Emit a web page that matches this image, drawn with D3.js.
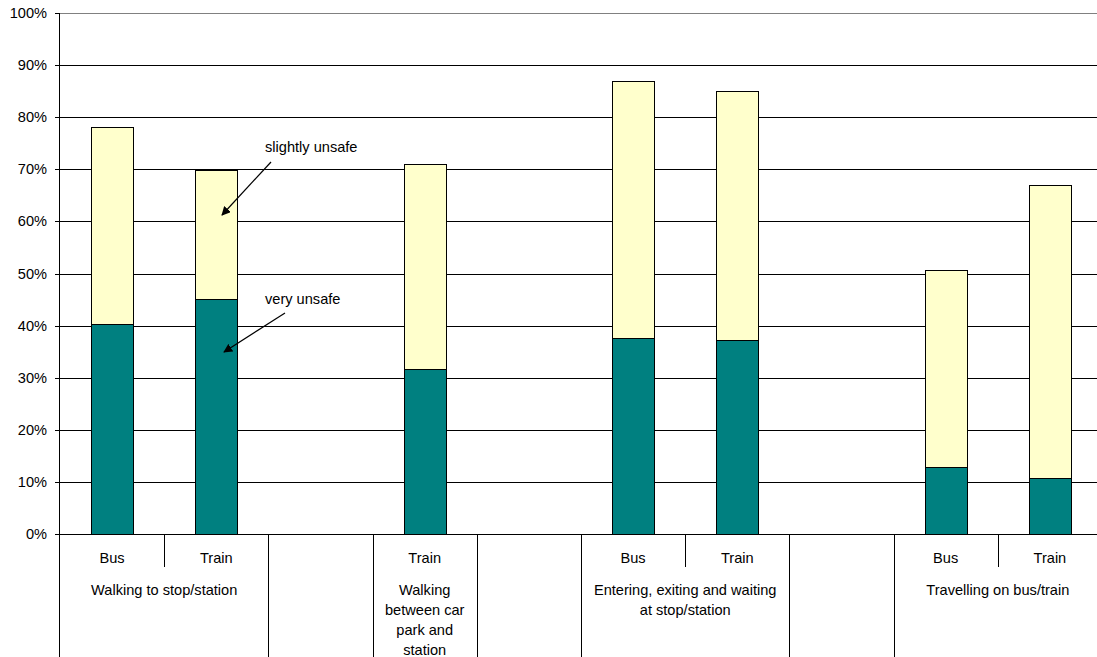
<!DOCTYPE html>
<html>
<head>
<meta charset="utf-8">
<script src="https://cdn.jsdelivr.net/npm/d3@7"></script>
<style>
  html, body { margin: 0; padding: 0; background: #fff; }
  svg { display: block; }
  text { font-family: "Liberation Sans", Arial, sans-serif; fill: #000; }
</style>
</head>
<body>
<svg id="chart" width="1097" height="657"></svg>
<script>
// ---- data ----
const slots = [0, 1, 2, 3, 4, 5, 6, 7, 8, 9];
const subLabels = ["Bus", "Train", "", "Train", "", "Bus", "Train", "", "Bus", "Train"];
const groupSpans = [2, 1, 1, 1, 2, 1, 2];
const groupLabels = [
  ["Walking to stop/station"],
  [""],
  ["Walking", "between car", "park and", "station"],
  [""],
  ["Entering, exiting and waiting", "at stop/station"],
  [""],
  ["Travelling on bus/train"]
];
const veryUnsafe     = [40.4, 45.1, null, 31.6, null, 37.7, 37.3, null, 12.9, 10.8];
const slightlyUnsafe = [37.8, 24.8, null, 39.4, null, 49.3, 47.7, null, 37.7, 56.1];
const yTicks = [0, 10, 20, 30, 40, 50, 60, 70, 80, 90, 100];
const annotations = [
  { text: "slightly unsafe", tx: 265, ty: 152, x1: 271, y1: 162, x2: 222, y2: 215 },
  { text: "very unsafe",     tx: 265, ty: 304, x1: 285, y1: 313, x2: 224, y2: 352 }
];

// ---- layout ----
const W = 1097, H = 657;
const pLeft = 60, pRight = 1102, pTop = 13, pBase = 534;
const svg = d3.select("#chart");

const x = d3.scaleBand().domain(slots).range([pLeft, pRight]).paddingInner(0.6).paddingOuter(0.3);
const step = x.step();
const slotX = i => pLeft + i * step; // slot boundary
const y = d3.scaleLinear().domain([0, 100]).range([pBase, pTop]);

// gridlines
svg.append("g").selectAll("line").data(yTicks.filter(d => d > 0)).join("line")
  .attr("x1", pLeft).attr("x2", pRight)
  .attr("y1", d => Math.round(y(d)) + 0.5).attr("y2", d => Math.round(y(d)) + 0.5)
  .attr("stroke", d => d === 100 ? "#808080" : "#000").attr("stroke-width", 1);

// y axis
const yAxis = d3.axisLeft(y).tickValues(yTicks).tickFormat(d => d + "%").tickSize(5).tickPadding(8);
const gy = svg.append("g").attr("transform", `translate(${pLeft},0)`).call(yAxis);
gy.select(".domain").remove();
gy.selectAll(".tick").attr("transform", d => `translate(0,${Math.round(y(d)) + 0.5})`);
gy.selectAll(".tick line").attr("stroke", "#000");
gy.selectAll(".tick text").attr("font-size", "14.6px").attr("font-family", "Liberation Sans, Arial, sans-serif").attr("fill", "#000");

// bars
const stackData = slots.map(i => ({ i, v: veryUnsafe[i], s: slightlyUnsafe[i] })).filter(d => d.v != null);
const barG = svg.append("g");
barG.selectAll("rect.s").data(stackData).join("rect").attr("class", "s")
  .attr("x", d => Math.round(x(d.i)) + 0.5).attr("width", Math.round(x.bandwidth()))
  .attr("y", d => Math.round(y(d.v + d.s)) + 0.5)
  .attr("height", d => Math.round(y(d.v)) - Math.round(y(d.v + d.s)))
  .attr("fill", "#FFFFCC").attr("stroke", "#000").attr("stroke-width", 1);
barG.selectAll("rect.v").data(stackData).join("rect").attr("class", "v")
  .attr("x", d => Math.round(x(d.i)) + 0.5).attr("width", Math.round(x.bandwidth()))
  .attr("y", d => Math.round(y(d.v)) + 0.5)
  .attr("height", d => Math.round(y(0)) - Math.round(y(d.v)))
  .attr("fill", "#008080").attr("stroke", "#000").attr("stroke-width", 1);

// axes lines
svg.append("line").attr("x1", pLeft - 0.5).attr("x2", pLeft - 0.5).attr("y1", pTop).attr("y2", H)
  .attr("stroke", "#000");
svg.append("line").attr("x1", pLeft).attr("x2", pRight).attr("y1", pBase + 0.5).attr("y2", pBase + 0.5)
  .attr("stroke", "#000");

// category separators
let acc = 0;
const groupStarts = [];
groupSpans.forEach(s => { groupStarts.push(acc); acc += s; });
const longB = groupStarts.slice(1).concat([acc]);
const shortB = [];
groupStarts.forEach((g, k) => { for (let j = 1; j < groupSpans[k]; j++) shortB.push(g + j); });
svg.append("g").selectAll("line").data(longB).join("line")
  .attr("x1", d => Math.round(slotX(d)) + 0.5).attr("x2", d => Math.round(slotX(d)) + 0.5)
  .attr("y1", pBase).attr("y2", H).attr("stroke", "#000");
svg.append("g").selectAll("line").data(shortB).join("line")
  .attr("x1", d => Math.round(slotX(d)) + 0.5).attr("x2", d => Math.round(slotX(d)) + 0.5)
  .attr("y1", pBase).attr("y2", 567).attr("stroke", "#000");

// sub labels
svg.append("g").selectAll("text").data(slots).join("text")
  .attr("x", d => x(d) + x.bandwidth() / 2).attr("y", 563)
  .attr("text-anchor", "middle").attr("font-size", "14.6px")
  .text(d => subLabels[d]);

// group labels
const gl = svg.append("g").selectAll("text").data(groupLabels.map((l, k) => ({ l, k }))).join("text")
  .attr("text-anchor", "middle").attr("font-size", "14.6px")
  .attr("transform", d => `translate(${slotX(groupStarts[d.k]) + groupSpans[d.k] * step / 2},595)`);
gl.selectAll("tspan").data(d => d.l).join("tspan")
  .attr("x", 0).attr("y", (d, i) => i * 20).text(d => d);

// annotations
const defs = svg.append("defs");
defs.append("marker").attr("id", "arr").attr("viewBox", "0 0 10 10")
  .attr("refX", 9).attr("refY", 5).attr("markerWidth", 9).attr("markerHeight", 9)
  .attr("markerUnits", "userSpaceOnUse").attr("orient", "auto")
  .append("path").attr("d", "M0,0 L10,5 L0,10 Z").attr("fill", "#000");
const an = svg.append("g").selectAll("g").data(annotations).join("g");
an.append("text").attr("x", d => d.tx).attr("y", d => d.ty).attr("font-size", "14.6px").text(d => d.text);
an.append("line").attr("x1", d => d.x1).attr("y1", d => d.y1).attr("x2", d => d.x2).attr("y2", d => d.y2)
  .attr("stroke", "#000").attr("stroke-width", 1.2).attr("marker-end", "url(#arr)");
</script>
</body>
</html>
